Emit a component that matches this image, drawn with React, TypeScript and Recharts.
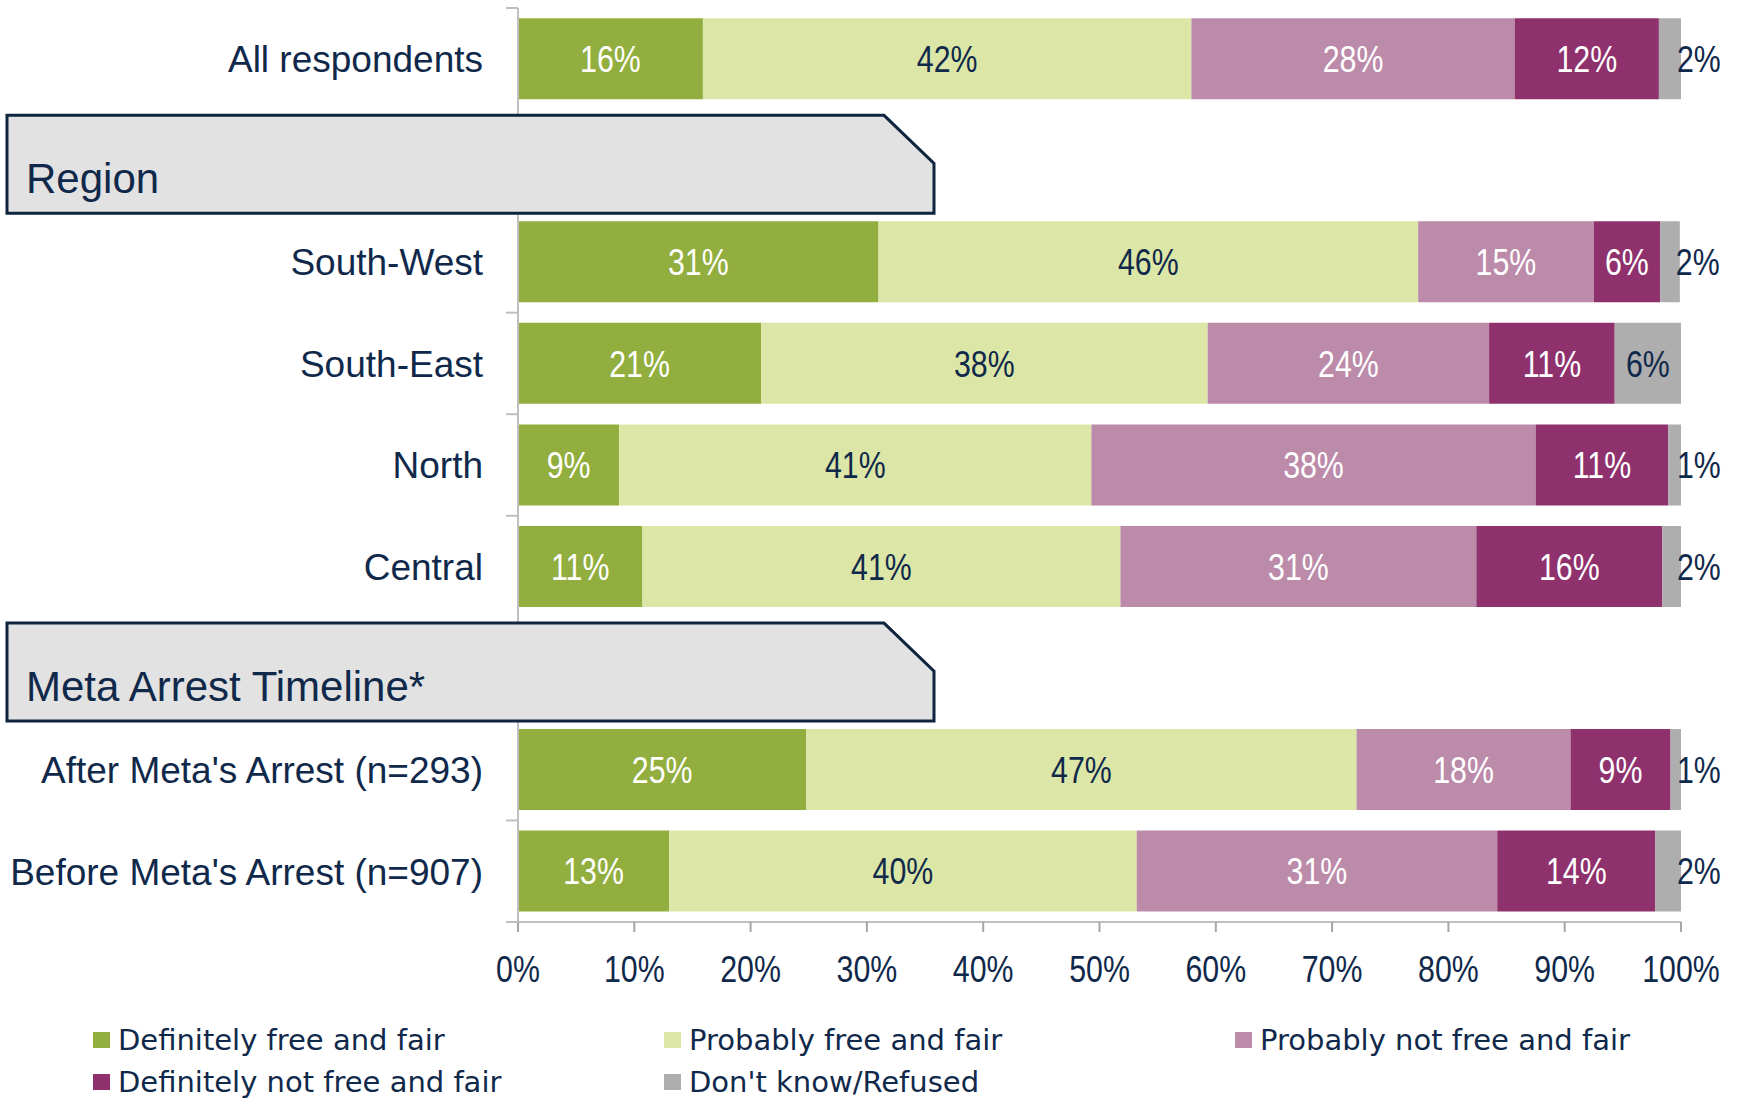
import React from "react";
import { BarChart, Bar, XAxis, YAxis, LabelList, Legend } from "recharts";

// ---------- data ----------
const categories = [
  "All respondents",
  "Region",
  "South-West",
  "South-East",
  "North",
  "Central",
  "Meta Arrest Timeline*",
  "After Meta's Arrest (n=293)",
  "Before Meta's Arrest (n=907)",
];
const headerRows = ["Region", "Meta Arrest Timeline*"];

const definitelyFair = [15.9, null, 31.0, 20.9, 8.7, 10.7, null, 24.8, 13.0];
const probablyFair = [42.0, null, 46.4, 38.4, 40.6, 41.1, null, 47.3, 40.2];
const probablyNotFair = [27.8, null, 15.1, 24.2, 38.2, 30.6, null, 18.4, 31.0];
const definitelyNotFair = [12.4, null, 5.7, 10.8, 11.4, 16.0, null, 8.6, 13.6];
const dontKnow = [1.9, null, 1.7, 5.7, 1.1, 1.6, null, 0.9, 2.2];

const xTicks = [0, 10, 20, 30, 40, 50, 60, 70, 80, 90, 100];

const NAVY = "#10294B";

const series = [
  { key: "df", name: "Definitely free and fair", color: "#91AE3E", labelColor: "#FFFFFF", values: definitelyFair },
  { key: "pf", name: "Probably free and fair", color: "#DCE7A7", labelColor: NAVY, values: probablyFair },
  { key: "pn", name: "Probably not free and fair", color: "#BC8BAA", labelColor: "#FFFFFF", values: probablyNotFair },
  { key: "dn", name: "Definitely not free and fair", color: "#8E316D", labelColor: "#FFFFFF", values: definitelyNotFair },
  { key: "dk", name: "Don't know/Refused", color: "#AEAEAE", labelColor: NAVY, values: dontKnow },
];

const data = categories.map((name, i) => {
  const row: any = { name };
  series.forEach((s) => {
    row[s.key] = s.values[i];
  });
  return row;
});

// ---------- layout ----------
const W = 1746;
const H = 1099;
const MARGIN = { top: 8, right: 65, bottom: 117, left: 0 };
const X_AXIS_H = 60;
const Y_AXIS_W = 518;
const PLOT_H = H - MARGIN.top - MARGIN.bottom - X_AXIS_H;
const BAND = PLOT_H / categories.length;

const CAT_FONT = "'Liberation Sans', Arial, sans-serif";
const NUM_FONT = "'Liberation Sans', Arial, sans-serif";
const NUM_SCALE = 0.82;
const LEGEND_FONT = "'DejaVu Sans', Verdana, sans-serif";
const AXIS_GRAY = "#BFBFBF";
const TICK_GRAY = "#A6A6A6";

const CategoryTick = (props: any) => {
  const { x, y, payload } = props;
  const ax = Number(x);
  const cy = Number(y);
  const label: string = payload.value;
  const idx = categories.indexOf(label);
  const isHeader = headerRows.includes(label);
  const prevIsHeader = idx > 0 && headerRows.includes(categories[idx - 1]);
  const isLast = idx === categories.length - 1;
  const top = cy - BAND / 2;
  const bottom = cy + BAND / 2;

  return (
    <g>
      {!isHeader && !prevIsHeader && (
        <line x1={ax - 12} x2={ax} y1={top} y2={top} stroke={AXIS_GRAY} strokeWidth={2} />
      )}
      {isLast && (
        <line x1={ax - 12} x2={ax} y1={bottom} y2={bottom} stroke={AXIS_GRAY} strokeWidth={2} />
      )}
      {isHeader ? (
        <g>
          <polygon
            points={`7,${cy - 45} 884,${cy - 45} 934,${cy + 3} 934,${cy + 53} 7,${cy + 53}`}
            fill="#E2E2E2"
            stroke="#0F243E"
            strokeWidth={3}
          />
          <text x={26} y={cy + 33} fill={NAVY} fontSize={42} fontFamily={CAT_FONT}>
            {label}
          </text>
        </g>
      ) : (
        <text
          x={ax - 35}
          y={cy}
          dy="0.36em"
          textAnchor="end"
          fill={NAVY}
          fontSize={37}
          fontFamily={CAT_FONT}
        >
          {label}
        </text>
      )}
    </g>
  );
};

const PercentTick = (props: any) => {
  const { x, y, payload } = props;
  return (
    <g transform={`translate(${Number(x)},${Number(y)}) scale(${NUM_SCALE},1)`}>
      <text x={0} y={0} dy="0.72em" textAnchor="middle" fill={NAVY} fontSize={37} fontFamily={NUM_FONT}>
        {`${payload.value}%`}
      </text>
    </g>
  );
};

const makeLabel = (labelColor: string) => (props: any) => {
  const { x, y, width, height, value } = props;
  if (value === null || value === undefined) return null;
  const v = Number(value);
  const bx = Number(x);
  const bw = Number(width);
  const by = Number(y);
  const bh = Number(height);
  if (!bw) return null;
  const outside = v < 3;
  const tx = outside ? bx + bw - 4 : bx + bw / 2;
  const ty = by + bh / 2;
  return (
    <g transform={`translate(${tx},${ty}) scale(${NUM_SCALE},1)`}>
      <text
        x={0}
        y={0}
        dy="0.36em"
        textAnchor={outside ? "start" : "middle"}
        fill={outside ? NAVY : labelColor}
        fontSize={37}
        fontFamily={NUM_FONT}
      >
        {`${Math.round(v)}%`}
      </text>
    </g>
  );
};

const renderLegend = (props: any) => {
  const incoming: any[] = props && props.payload && props.payload.length ? props.payload : [];
  const items = series.map((s) => {
    const found = incoming.find((p: any) => p.value === s.name);
    return { value: s.name, color: found && found.color ? found.color : s.color };
  });
  return (
    <div
      style={{
        display: "grid",
        gridTemplateColumns: "repeat(3, 571px)",
        fontFamily: LEGEND_FONT,
        fontSize: 29,
        color: NAVY,
      }}
    >
      {items.map((p: any) => (
        <div
          key={p.value}
          style={{ display: "flex", alignItems: "center", height: 42, whiteSpace: "nowrap" }}
        >
          <span
            style={{
              display: "inline-block",
              width: 17,
              height: 16,
              background: p.color,
              marginRight: 8,
              flex: "none",
            }}
          />
          <span>{p.value}</span>
        </div>
      ))}
    </div>
  );
};

export default function App() {
  return (
    <div style={{ position: "absolute", left: 0, top: 0, width: W, height: H, background: "#FFFFFF" }}>
      <BarChart
        width={W}
        height={H}
        data={data}
        layout="vertical"
        margin={MARGIN}
        barCategoryGap="10%"
      >
        <XAxis
          type="number"
          domain={[0, 100]}
          ticks={xTicks}
          allowDataOverflow
          height={X_AXIS_H}
          tick={<PercentTick />}
          tickSize={10}
          tickMargin={23}
          axisLine={{ stroke: AXIS_GRAY, strokeWidth: 2 }}
          tickLine={{ stroke: TICK_GRAY, strokeWidth: 2 }}
        />
        <YAxis
          type="category"
          dataKey="name"
          width={Y_AXIS_W}
          interval={0}
          tickSize={0}
          tickMargin={0}
          tickLine={false}
          axisLine={{ stroke: AXIS_GRAY, strokeWidth: 2 }}
          tick={<CategoryTick />}
        />
        {series.map((s) => (
          <Bar
            key={s.key}
            dataKey={s.key}
            name={s.name}
            stackId="a"
            fill={s.color}
            isAnimationActive={false}
          >
            <LabelList dataKey={s.key} content={makeLabel(s.labelColor)} />
          </Bar>
        ))}
        <Legend
          layout="vertical"
          verticalAlign="middle"
          align="center"
          wrapperStyle={{ position: "absolute", left: 93, top: 1019, width: 1713, height: 84 }}
          content={renderLegend}
        />
      </BarChart>
    </div>
  );
}
